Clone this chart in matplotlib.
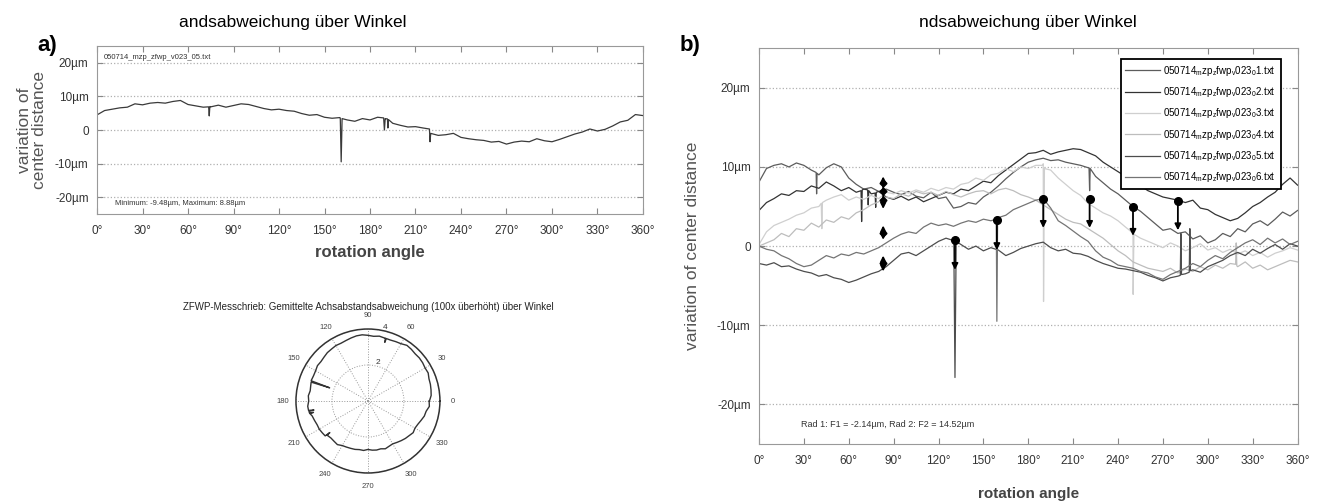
import numpy as np
import matplotlib
matplotlib.use('Agg')
from matplotlib import pyplot as plt

plt.rcParams['font.family'] = ['Liberation Sans', 'DejaVu Sans']
plt.rcParams['mathtext.fontset'] = 'custom'
plt.rcParams['mathtext.rm'] = 'Liberation Sans'

# rotation angle grid (deg)
angles = list(range(0, 361, 5))

# panel a: single measurement (um)
dev_a = [4.5, 5.8, 6.2, 6.6, 6.8, 7.8, 7.5, 8.0, 8.2, 8.0, 8.5, 8.8, 7.6, 7.2, 6.8,
         6.9, 7.4, 6.8, 7.3, 7.8, 7.6, 7.0, 6.4, 6.0, 6.2, 5.8, 5.6, 4.9, 4.4, 4.6,
         3.8, 3.5, 3.7, 3.0, 2.6, 3.4, 3.0, 3.8, 3.2, 2.0, 1.4, 0.9, 1.0, 0.6, -1.2,
         -1.6, -1.4, -1.0, -2.2, -2.6, -2.9, -3.1, -3.6, -3.4, -4.2, -3.6, -3.3, -3.5,
         -2.6, -3.2, -3.5, -2.8, -2.0, -1.2, -0.6, 0.3, -0.3, 0.2, 1.2, 2.4, 2.9, 4.6, 4.3]
spikes_a = [(73.6, 6.9), (74.0, 4.2), (74.4, 7.0),
            (160.4, 3.6), (161.0, -9.48), (161.6, 3.4),
            (189.0, 3.6), (189.5, 0.0), (190.0, 3.4),
            (191.5, 3.3), (191.8, 0.6), (192.2, 3.1),
            (219.2, 0.3), (219.6, -3.5), (220.0, -1.0)]

# panel b: six measurements (um)
dev_b1 = [8.1, 9.8, 10.2, 10.4, 10.0, 10.5, 10.2, 9.6, 9.0, 9.9, 10.4, 10.0, 8.6, 7.8, 7.2,
          7.4, 6.9, 7.2, 6.8, 6.5, 6.9, 6.3, 6.1, 6.8, 6.0, 6.2, 4.8, 5.0, 5.5, 5.3,
          6.2, 6.8, 7.6, 8.5, 9.3, 10.0, 10.6, 10.9, 11.1, 10.8, 10.9, 10.6, 10.4, 10.2, 9.9,
          8.8, 8.0, 7.2, 6.6, 5.8, 5.0, 4.4, 3.6, 2.8, 2.0, 2.2, 1.6, 1.8, 0.9, 1.3,
          0.4, 0.8, 1.6, 1.2, 2.2, 1.8, 2.8, 3.2, 2.6, 3.4, 4.3, 3.8, 4.5]
dev_b2 = [4.5, 5.5, 6.0, 6.6, 6.4, 7.0, 6.9, 7.6, 7.3, 8.1, 7.6, 7.0, 7.4, 6.8, 7.2,
          6.6, 6.9, 6.2, 5.9, 6.3, 5.8, 6.2, 5.6, 6.0, 6.4, 6.8, 6.6, 7.2, 7.0, 7.6,
          8.2, 8.0, 8.9, 9.6, 10.3, 11.0, 11.7, 11.8, 12.1, 11.6, 11.9, 12.1, 12.3, 12.2, 11.8,
          11.4, 10.6, 10.0, 9.4, 8.8, 8.0, 7.6, 7.0, 6.6, 6.2, 6.0, 5.8, 5.5, 5.8, 4.8,
          4.6, 4.0, 3.6, 3.2, 3.5, 4.2, 5.0, 5.5, 6.2, 6.8, 7.8, 8.6, 7.7]
dev_b3 = [0.2, 1.8, 2.6, 3.0, 3.4, 3.9, 4.2, 4.8, 5.0, 5.8, 6.2, 6.5, 5.8, 6.2, 5.9,
          6.4, 6.0, 6.8, 6.6, 7.0, 6.7, 7.1, 6.8, 7.3, 7.0, 7.4, 7.2, 7.8, 8.0, 8.6,
          8.3, 9.0, 9.2, 9.8, 9.4, 10.0, 9.8, 10.2, 10.4, 9.6, 8.6, 7.8, 7.0, 6.4, 5.4,
          4.8, 4.2, 3.8, 3.2, 2.4, 1.6, 1.0, 0.6, 0.2, -0.2, 0.4, 0.0, -0.6, -0.2, 0.3,
          -0.5, -0.2, -0.8, -0.4, -1.0, -0.6, -1.2, -0.8, -1.4, -0.9, -0.6, -0.2, -0.5]
dev_b4 = [0.0, 0.4, 0.8, 1.6, 1.2, 2.2, 2.0, 2.9, 2.4, 3.3, 3.0, 3.7, 3.4, 4.2, 4.6,
          5.2, 5.6, 6.2, 6.0, 6.6, 6.3, 6.9, 6.6, 6.8, 6.4, 6.9, 6.5, 6.2, 6.6, 6.9,
          7.0, 6.6, 7.1, 7.3, 7.0, 6.5, 6.2, 5.8, 5.2, 4.6, 4.0, 3.4, 3.0, 2.8, 2.2,
          1.6, 1.0, 0.2, -0.6, -1.2, -2.0, -2.4, -2.8, -3.0, -3.2, -2.8, -3.4, -2.9, -3.2, -2.6,
          -3.0, -2.4, -2.8, -2.2, -2.6, -2.0, -2.8, -2.4, -3.0, -2.6, -2.2, -1.8, -2.0]
dev_b5 = [-2.2, -2.4, -2.1, -2.6, -2.5, -2.9, -3.2, -3.4, -3.8, -3.6, -4.0, -4.2, -4.6, -4.3, -3.9,
          -3.5, -3.2, -2.6, -1.8, -1.0, -0.8, -1.2, -0.6, 0.0, 0.6, 1.0, 0.7, 0.2, -0.4, 0.0,
          -0.6, -0.2, -0.5, -1.2, -0.8, -0.3, 0.0, 0.3, 0.5, -0.2, -0.6, -0.4, -0.9, -1.0, -1.3,
          -1.8, -2.2, -2.5, -2.8, -2.9, -3.1, -3.3, -3.7, -4.0, -4.4, -4.0, -3.8, -3.5, -3.0, -3.3,
          -2.6, -2.2, -1.8, -1.2, -0.8, -1.2, -0.4, -0.9, -0.3, 0.2, -0.4, 0.3, 0.0]
dev_b6 = [0.0, -0.4, -0.6, -1.2, -1.6, -2.2, -2.6, -2.4, -1.8, -1.2, -1.5, -1.0, -1.2, -0.8, -1.0,
          -0.6, -0.2, 0.4, 1.0, 1.5, 1.8, 1.6, 2.4, 2.9, 2.6, 2.8, 2.5, 2.9, 3.2, 3.0,
          3.4, 3.2, 3.6, 3.9, 4.6, 5.0, 5.4, 5.8, 6.0, 4.8, 3.2, 2.6, 1.9, 1.2, 0.6,
          -0.6, -1.4, -1.8, -2.4, -2.6, -2.8, -3.2, -3.4, -3.9, -4.2, -3.6, -3.2, -2.8, -2.2, -2.6,
          -1.8, -1.2, -1.6, -0.8, -0.2, 0.4, 0.8, 0.2, 1.0, 0.4, 0.9, 0.2, 0.6]
spikes_b1 = [(38.2, 9.3), (38.5, 6.6), (38.8, 9.2), (220.6, 9.9), (221.0, 7.0), (221.4, 9.8)]
spikes_b2 = [(68.2, 7.0), (68.6, 3.1), (69.0, 7.1), (72.6, 7.1), (73.0, 5.2), (73.4, 7.0),
             (77.6, 6.7), (78.0, 4.9), (78.4, 6.8)]
spikes_b3 = [(41.6, 5.4), (42.0, 2.2), (42.4, 5.5), (189.6, 10.2), (190.2, -7.0), (190.8, 9.8),
             (249.6, 1.7), (250.1, -6.1), (250.6, 1.5)]
spikes_b4 = [(318.6, -2.3), (319.0, 0.4), (319.4, -2.5)]
spikes_b5 = [(130.2, 0.8), (131.0, -16.6), (131.8, 0.6), (281.6, -3.7), (282.0, 1.6), (282.4, -3.6),
             (287.6, -3.3), (288.0, 2.2), (288.4, -3.1)]
spikes_b6 = [(158.6, 3.4), (159.0, -9.5), (159.5, 3.5)]
labels_b = ['050714$_\\mathrm{m}$zp$_\\mathrm{z}$fwp$_\\mathrm{v}$023$_\\mathrm{0}$%d.txt' % i
            for i in range(1, 7)]
colors_b = ['#5c5c5c', '#333333', '#cfcfcf', '#bdbdbd', '#4d4d4d', '#747474']

# measuring arrows: angle, start (dot), end
arrow_pts = [(131, 0.8, -3.0), (159, 3.3, -0.5), (190, 6.0, 2.3),
             (221, 6.0, 2.3), (250, 5.0, 1.3), (280, 5.7, 2.0)]
double_arrows = [(83, 4.7, 8.8), (83, 0.8, 2.6), (83, -3.2, -1.2)]
diamond_pts = [8.0, 6.9, 5.8, 1.7, -2.1]


def series(vals, spikes):
    x = np.array(angles + [s[0] for s in spikes], float)
    y = np.array(vals + [s[1] for s in spikes], float)
    o = np.argsort(x, kind='stable')
    return x[o], y[o]


def style(ax):
    ax.set_xlim(0, 360)
    ax.set_ylim(-25, 25)
    ax.set_xticks(range(0, 361, 30))
    ax.set_xticklabels(['%d°' % d for d in range(0, 361, 30)])
    ax.set_yticks([-20, -10, 0, 10, 20])
    ax.set_yticklabels(['-20µm', '-10µm', '0', '10µm', '20µm'])
    ax.yaxis.grid(True, ls=':', color='#b0b0b0', lw=0.9)
    ax.tick_params(direction='in', top=True, right=True, length=4, color='#888888',
                   labelsize=8.5, labelcolor='#333333')
    ax.tick_params(axis='x', pad=8)
    ax.tick_params(axis='y', pad=6)
    for s in ax.spines.values():
        s.set_color('#999999')


fig = plt.figure(figsize=(13.2, 5.01), dpi=100)

# ---- a)
ax = fig.add_axes([0.0735, 0.573, 0.4136, 0.335])
xa, ya = series(dev_a, spikes_a)
ax.plot(xa, ya, color='#3a3a3a', lw=0.9)
style(ax)
ax.set_xlabel('rotation angle', fontsize=12, fontweight='bold', color='#444444', labelpad=6)
ax.text(0.012, 0.955, '050714_mzp_zfwp_v023_05.txt', transform=ax.transAxes,
        fontsize=5.5, va='top', color='#333333')
ax.text(0.033, 0.065, 'Minimum: -9.48µm, Maximum: 8.88µm', transform=ax.transAxes,
        fontsize=5.5, va='center', color='#333333')
fig.text(0.024, 0.74, 'variation of\ncenter distance', rotation=90, ha='center', va='center',
         fontsize=12.5, color='#555555', linespacing=1.0)
fig.text(0.036, 0.91, 'a)', fontsize=16, fontweight='bold', ha='center', va='center')
fig.text(0.222, 0.956, 'andsabweichung über Winkel', fontsize=12.5, ha='center', va='center')

# polar view of the same trace
pax = fig.add_axes([0.2242, 0.0559, 0.1091, 0.2874], projection='polar')
pax.plot(np.radians(xa), ya, color='#333333', lw=1.0)
pax.set_ylim(-36.5, 11.5)
pax.set_rgrids([-12.5, 11.5], labels=['2', '4'], angle=78, fontsize=6, color='#333333')
pax.set_thetagrids(range(0, 360, 30), labels=[str(d) for d in range(0, 360, 30)],
                   fontsize=5.5, color='#444444')
pax.tick_params(axis='x', pad=-1)
pax.grid(True, ls=':', color='#999999', lw=0.7)
pax.spines['polar'].set_color('#333333')
pax.spines['polar'].set_linewidth(1.1)
fig.text(0.279, 0.387, 'ZFWP-Messchrieb: Gemittelte Achsabstandsabweichung (100x überhöht) über Winkel',
         fontsize=7, ha='center', va='center', color='#222222')

# ---- b)
bx = fig.add_axes([0.575, 0.1138, 0.408, 0.790])
curves = [(dev_b1, spikes_b1), (dev_b2, spikes_b2), (dev_b3, spikes_b3),
          (dev_b4, spikes_b4), (dev_b5, spikes_b5), (dev_b6, spikes_b6)]
for (vals, spk), c, lab in zip(curves, colors_b, labels_b):
    xb, yb = series(vals, spk)
    bx.plot(xb, yb, color=c, lw=0.9, label=lab)
style(bx)
bx.set_xlabel('rotation angle', fontsize=11, fontweight='bold', color='#444444', labelpad=14)
bx.set_ylabel('variation of center distance', fontsize=12.5, color='#555555', labelpad=12)

for ang, y0, y1 in arrow_pts:
    bx.annotate('', xy=(ang, y1), xytext=(ang, y0),
                arrowprops=dict(arrowstyle='-|>', color='k', lw=1.3, mutation_scale=9,
                                shrinkA=0, shrinkB=0))
    bx.plot(ang, y0, 'ko', ms=5.5)
for ang, y0, y1 in double_arrows:
    bx.annotate('', xy=(ang, y1), xytext=(ang, y0),
                arrowprops=dict(arrowstyle='<|-|>', color='k', lw=1.3, mutation_scale=8,
                                shrinkA=0, shrinkB=0))
bx.plot([83] * len(diamond_pts), diamond_pts, 'kD', ms=3.5)

bx.text(28, -22.6, 'Rad 1: F1 = -2.14µm, Rad 2: F2 = 14.52µm', fontsize=6.5,
        va='center', color='#333333')
leg = bx.legend(loc='upper right', bbox_to_anchor=(0.978, 0.985), fontsize=7,
                handlelength=3.6, handletextpad=0.3, labelspacing=0.75, borderpad=0.5,
                fancybox=False, framealpha=1)
leg.get_frame().set_edgecolor('k')
leg.get_frame().set_linewidth(1.3)

fig.text(0.523, 0.91, 'b)', fontsize=16, fontweight='bold', ha='center', va='center')
fig.text(0.779, 0.956, 'ndsabweichung über Winkel', fontsize=12.5, ha='center', va='center')

fig.savefig('out.png', dpi=100)
